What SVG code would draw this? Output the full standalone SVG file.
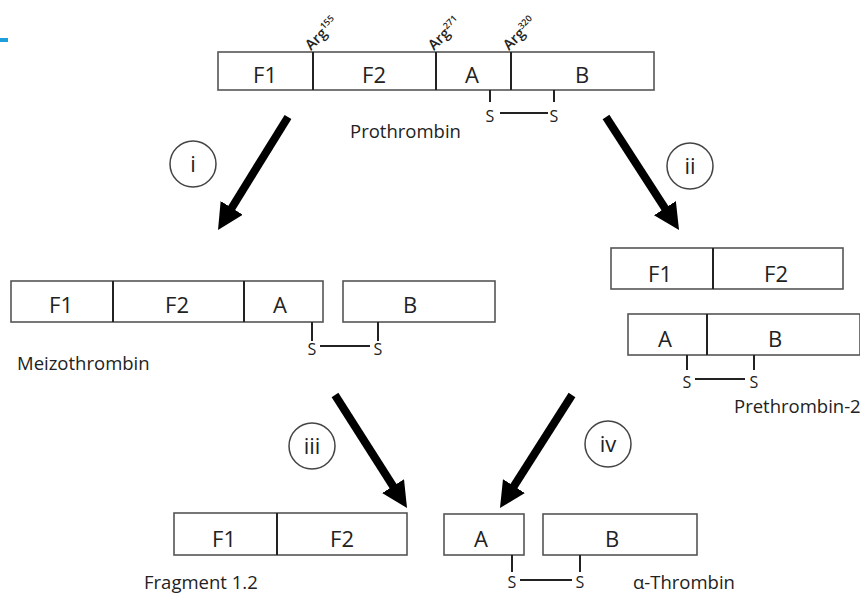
<svg xmlns="http://www.w3.org/2000/svg" width="860" height="596" viewBox="0 0 860 596">
<defs>
<style>
.box{fill:#fff;stroke:#555;stroke-width:1.6}
.div{stroke:#222;stroke-width:2}
.tick{stroke:#222;stroke-width:2;fill:none}
.lbl{font-family:"Open Sans","Liberation Sans",sans-serif;font-size:22px;font-weight:500;fill:#222;text-anchor:middle}
.name{font-family:"Open Sans","Liberation Sans",sans-serif;font-size:18.5px;font-weight:500;fill:#222}
.s{font-family:"Open Sans","Liberation Sans",sans-serif;font-size:16px;font-weight:500;fill:#222;text-anchor:middle}
.arg{font-family:"Open Sans","Liberation Sans",sans-serif;font-size:14.5px;font-weight:600;fill:#222}
.circ{fill:#fff;stroke:#444;stroke-width:1.5}
.num{font-family:"Open Sans","Liberation Sans",sans-serif;font-size:22px;font-weight:500;fill:#222;text-anchor:middle}
.arrow{stroke:#000;stroke-width:8;fill:none;marker-end:url(#head)}
</style>
<marker id="head" markerUnits="userSpaceOnUse" markerWidth="28" markerHeight="28" refX="4" refY="13" orient="auto">
<path d="M0,0 L26,13 L0,26 Z" fill="#000"/>
</marker>
</defs>
<rect x="0" y="38" width="8" height="4" fill="#1e9fdc"/>

<g id="prothrombin">
<rect class="box" x="218" y="52" width="436" height="38"/>
<line class="div" x1="313" y1="52" x2="313" y2="90"/>
<line class="div" x1="436" y1="52" x2="436" y2="90"/>
<line class="div" x1="511" y1="52" x2="511" y2="90"/>
<text class="lbl" x="265" y="83">F1</text>
<text class="lbl" x="374" y="83">F2</text>
<text class="lbl" x="472" y="83">A</text>
<text class="lbl" x="582" y="83">B</text>
<text class="arg" transform="translate(311,51) rotate(-45)">Arg<tspan font-size="9" dy="-6">155</tspan></text>
<text class="arg" transform="translate(434,51) rotate(-45)">Arg<tspan font-size="9" dy="-6">271</tspan></text>
<text class="arg" transform="translate(509,51) rotate(-45)">Arg<tspan font-size="9" dy="-6">320</tspan></text>
<line class="tick" x1="490" y1="90" x2="490" y2="102"/>
<line class="tick" x1="554" y1="90" x2="554" y2="102"/>
<line class="tick" x1="500" y1="113" x2="548" y2="113"/>
<text class="s" x="490" y="122">S</text>
<text class="s" x="554" y="122">S</text>
<text class="name" x="350" y="138">Prothrombin</text>
</g>

<g id="meizothrombin">
<rect class="box" x="11" y="281" width="312" height="41"/>
<line class="div" x1="113" y1="281" x2="113" y2="322"/>
<line class="div" x1="244" y1="281" x2="244" y2="322"/>
<rect class="box" x="343" y="281" width="152" height="41"/>
<text class="lbl" x="61" y="313">F1</text>
<text class="lbl" x="177" y="313">F2</text>
<text class="lbl" x="280" y="313">A</text>
<text class="lbl" x="410" y="313">B</text>
<line class="tick" x1="312" y1="322" x2="312" y2="341"/>
<line class="tick" x1="378" y1="322" x2="378" y2="341"/>
<line class="tick" x1="320" y1="346" x2="370" y2="346"/>
<text class="s" x="312" y="355">S</text>
<text class="s" x="378" y="355">S</text>
<text class="name" x="17" y="370">Meizothrombin</text>
</g>

<g id="prethrombin2">
<rect class="box" x="611" y="248" width="232" height="41"/>
<line class="div" x1="713" y1="248" x2="713" y2="289"/>
<text class="lbl" x="660" y="282">F1</text>
<text class="lbl" x="776" y="282">F2</text>
<rect class="box" x="628" y="314" width="232" height="41"/>
<line class="div" x1="707" y1="314" x2="707" y2="355"/>
<text class="lbl" x="665" y="347">A</text>
<text class="lbl" x="775" y="347">B</text>
<line class="tick" x1="687" y1="355" x2="687" y2="370"/>
<line class="tick" x1="754" y1="355" x2="754" y2="370"/>
<line class="tick" x1="695" y1="379" x2="745" y2="379"/>
<text class="s" x="687" y="388">S</text>
<text class="s" x="754" y="388">S</text>
<text class="name" x="734" y="413">Prethrombin-2</text>
</g>

<g id="fragment12">
<rect class="box" x="174" y="513" width="233" height="42"/>
<line class="div" x1="277" y1="513" x2="277" y2="555"/>
<text class="lbl" x="224" y="547">F1</text>
<text class="lbl" x="342" y="547">F2</text>
<text class="name" x="144" y="589">Fragment 1.2</text>
</g>

<g id="alpha-thrombin">
<rect class="box" x="444" y="514" width="80" height="41"/>
<rect class="box" x="543" y="514" width="154" height="41"/>
<text class="lbl" x="481" y="547">A</text>
<text class="lbl" x="612" y="547">B</text>
<line class="tick" x1="512" y1="555" x2="512" y2="572"/>
<line class="tick" x1="580" y1="555" x2="580" y2="572"/>
<line class="tick" x1="520" y1="580" x2="572" y2="580"/>
<text class="s" x="512" y="588">S</text>
<text class="s" x="580" y="588">S</text>
<text class="name" x="633" y="589">α-Thrombin</text>
</g>

<g id="step-i"><circle class="circ" cx="193" cy="164" r="23"/><text class="num" x="193" y="172">i</text></g>
<g id="step-ii"><circle class="circ" cx="690" cy="166" r="23"/><text class="num" x="690" y="174">ii</text></g>
<g id="step-iii"><circle class="circ" cx="312" cy="446" r="23"/><text class="num" x="312" y="454">iii</text></g>
<g id="step-iv"><circle class="circ" cx="608" cy="444" r="23"/><text class="num" x="608" y="452">iv</text></g>

<g id="connectors">
<line class="arrow" x1="288" y1="117" x2="229.6" y2="211.3"/>
<line class="arrow" x1="606" y1="117" x2="667.1" y2="211.5"/>
<line class="arrow" x1="335" y1="395" x2="395.2" y2="489.5"/>
<line class="arrow" x1="572" y1="395" x2="511.8" y2="489.5"/>
</g>
</svg>
